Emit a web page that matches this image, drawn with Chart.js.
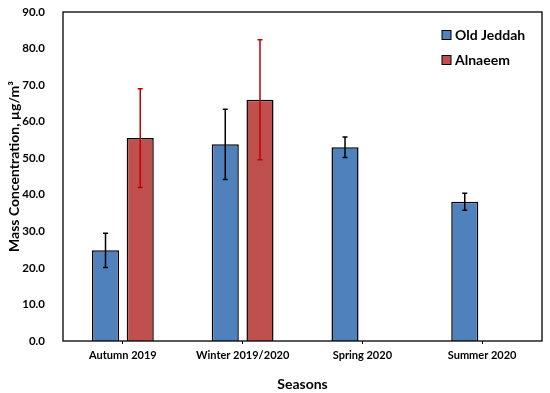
<!DOCTYPE html>
<html>
<head>
<meta charset="utf-8">
<script src="https://cdn.jsdelivr.net/npm/chart.js@4/dist/chart.umd.min.js"></script>
<style>
  html, body { margin: 0; padding: 0; background: #fff; }
  #wrap { width: 550px; height: 393px; }
</style>
</head>
<body>
<div id="wrap"><canvas id="myChart" width="550" height="393"></canvas></div>
<script>
// data
const seasons = ["Autumn 2019", "Winter 2019/2020", "Spring 2020", "Summer 2020"];
const oldJeddah = [24.8, 53.8, 53.0, 38.1];
const oldJeddahErr = [4.7, 9.6, 2.8, 2.3];
const alnaeem = [55.5, 66.0, null, null];
const alnaeemErr = [13.5, 16.4, null, null];
const yTicks = [0, 10, 20, 30, 40, 50, 60, 70, 80, 90];
const yTitle = "Mass Concentration, µg/m³";

const FONT = "Lato, 'Open Sans', sans-serif";

// draws the +/- error whiskers on top of each bar
const errorBars = {
  id: "errorBars",
  afterDatasetsDraw(chart) {
    const ctx = chart.ctx;
    const yScale = chart.scales.y;
    chart.data.datasets.forEach((ds, i) => {
      const meta = chart.getDatasetMeta(i);
      ds.errors.forEach((err, j) => {
        const v = ds.data[j];
        if (v == null || err == null) return;
        const bar = meta.data[j];
        const top = yScale.getPixelForValue(v + err);
        const bot = yScale.getPixelForValue(v - err);
        ctx.save();
        ctx.strokeStyle = ds.errorColor;
        ctx.lineWidth = 1.5;
        ctx.beginPath();
        ctx.moveTo(bar.x, top);
        ctx.lineTo(bar.x, bot);
        ctx.moveTo(bar.x - 2.5, top);
        ctx.lineTo(bar.x + 2.5, top);
        ctx.moveTo(bar.x - 2.5, bot);
        ctx.lineTo(bar.x + 2.5, bot);
        ctx.stroke();
        ctx.restore();
      });
    });
  },
};

// frame round the plot area, the legend inside it and the y title
const frameAndLegend = {
  id: "frameAndLegend",
  afterDraw(chart) {
    const { ctx, chartArea: a } = chart;
    ctx.save();
    ctx.strokeStyle = "#000";
    ctx.lineWidth = 1.3;
    ctx.strokeRect(a.left, a.top, a.right - a.left, a.bottom - a.top);

    ctx.font = "bold 14px " + FONT;
    ctx.textBaseline = "middle";
    chart.data.datasets.forEach((ds, i) => {
      const y = a.top + 23 + i * 25;
      const x = a.left + 379;
      ctx.fillStyle = ds.backgroundColor;
      ctx.fillRect(x, y - 4.5, 9, 9);
      ctx.lineWidth = 1;
      ctx.strokeStyle = "#000";
      ctx.strokeRect(x, y - 4.5, 9, 9);
      ctx.fillStyle = "#000";
      ctx.fillText(ds.label, x + 13, y);
    });

    // y axis title, a little above the middle like the original
    ctx.translate(14, (a.top + a.bottom) / 2 - 10);
    ctx.rotate(-Math.PI / 2);
    ctx.textAlign = "center";
    ctx.textBaseline = "middle";
    ctx.font = "bold 14px " + FONT;
    ctx.fillText(yTitle, 0, 0);
    ctx.restore();
  },
};

const chartData = {
  labels: seasons,
  datasets: [
    {
      label: "Old Jeddah",
      data: oldJeddah,
      errors: oldJeddahErr,
      errorColor: "#000000",
      backgroundColor: "#4F81BD",
      borderColor: "#000000",
      borderWidth: 1.5,
      categoryPercentage: 0.58,
      barPercentage: 0.78,
    },
    {
      label: "Alnaeem",
      data: alnaeem,
      errors: alnaeemErr,
      errorColor: "#C00000",
      backgroundColor: "#C0504D",
      borderColor: "#000000",
      borderWidth: 1.5,
      categoryPercentage: 0.58,
      barPercentage: 0.78,
    },
  ],
};

const config = {
  type: "bar",
  data: chartData,
  options: {
    responsive: false,
    animation: false,
    layout: { padding: { top: 12, right: 8, left: 0, bottom: 0 } },
    plugins: {
      legend: { display: false },
      tooltip: { enabled: false },
    },
    scales: {
      x: {
        grid: {
          display: true,
          offset: false,
          drawOnChartArea: false,
          drawTicks: true,
          tickLength: 3,
          color: "#000",
        },
        border: { display: false },
        ticks: {
          color: "#000",
          padding: 5,
          maxRotation: 0,
          font: { family: FONT, size: 11, weight: "bold" },
        },
        title: {
          display: true,
          text: "Seasons",
          color: "#000",
          padding: { top: 20, bottom: 0 },
          font: { family: FONT, size: 14, weight: "bold" },
        },
        afterFit(scale) { scale.height = 52; },
      },
      y: {
        min: 0,
        max: 90,
        afterBuildTicks(scale) { scale.ticks = yTicks.map((v) => ({ value: v })); },
        grid: { display: false },
        border: { display: false },
        ticks: {
          color: "#000",
          padding: 10,
          callback: (v) => Number(v).toFixed(1),
          font: { family: FONT, size: 11.5, weight: "bold" },
        },
        afterFit(scale) {
          scale.width = 63;
          scale.paddingTop = 0;
          scale.paddingBottom = 0;
        },
      },
    },
  },
  plugins: [errorBars, frameAndLegend],
};

new Chart(document.getElementById("myChart").getContext("2d"), config);
</script>
</body>
</html>
